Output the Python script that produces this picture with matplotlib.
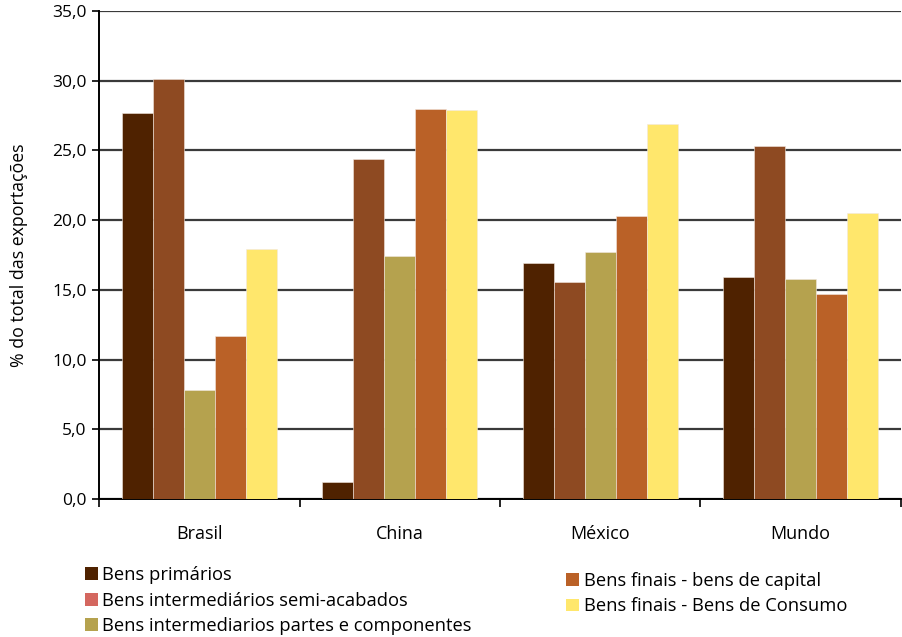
import matplotlib
matplotlib.use("Agg")
import matplotlib.pyplot as plt
from matplotlib.patches import Patch
from matplotlib.ticker import FuncFormatter, FixedLocator
import numpy as np

plt.rcParams['font.family'] = ['Open Sans', 'DejaVu Sans']

regioes = ["Brasil", "China", "México", "Mundo"]
series = [
    "Bens primários",
    "Bens intermediários semi-acabados",
    "Bens intermediarios partes e componentes",
    "Bens finais - bens de capital",
    "Bens finais - Bens de Consumo",
]
primarios = [27.7, 1.2, 16.9, 15.9]
semi_acabados = [30.1, 24.4, 15.6, 25.3]
partes_componentes = [7.8, 17.4, 17.7, 15.8]
bens_capital = [11.7, 28.0, 20.3, 14.7]
bens_consumo = [17.9, 27.9, 26.9, 20.5]

valores = [primarios, semi_acabados, partes_componentes, bens_capital, bens_consumo]
cores_barras = ["#4F2200", "#8E4A22", "#B5A24E", "#BA6127", "#FFE76C"]
cores_legenda = ["#4F2200", "#D4675F", "#B5A24E", "#BA6127", "#FFE76C"]

fig = plt.figure(figsize=(9.02, 6.37), dpi=100)
ax = fig.add_axes([0.1098, 0.2166, 0.889, 0.7661])

x = np.arange(len(regioes))
largura = 0.155
for i, (vals, cor) in enumerate(zip(valores, cores_barras)):
    ax.bar(x + (i - 2) * largura, vals, width=largura, color=cor,
           edgecolor="#f2e8e0", linewidth=0.4, zorder=3)

ax.set_xlim(-0.5, len(regioes) - 0.5)
ax.set_ylim(0, 35)
ax.set_yticks(np.arange(0, 35.1, 5))
ax.yaxis.set_major_formatter(FuncFormatter(lambda v, p: f"{v:.1f}".replace(".", ",")))
ax.yaxis.grid(True, color="#3a3a3a", linewidth=1.6, zorder=0)
ax.set_axisbelow(True)

# group boundaries carry the tick marks, category names sit at the centres
ax.xaxis.set_major_locator(FixedLocator(np.arange(-0.5, len(regioes), 1.0)))
ax.xaxis.set_major_formatter(FuncFormatter(lambda v, p: ""))
ax.xaxis.set_minor_locator(FixedLocator(x))
ax.set_xticklabels(regioes, minor=True)
ax.tick_params(axis="x", which="major", length=6, width=1.2, direction="out", color="black")
ax.tick_params(axis="x", which="minor", length=0, pad=19, labelsize=13)
ax.tick_params(axis="y", length=5, width=1.2, direction="out", labelsize=12.5, pad=4)

for s in ["top", "right"]:
    ax.spines[s].set_visible(False)
for s in ["left", "bottom"]:
    ax.spines[s].set_linewidth(1.4)
    ax.spines[s].set_color("black")

ax.set_ylabel("% do total das exportações", fontsize=12.8)
ax.yaxis.set_label_coords(-0.089, 0.5)

handles = [Patch(facecolor=c, edgecolor="none", label=s) for c, s in zip(cores_legenda, series)]
leg_kw = dict(frameon=False, fontsize=13.2, handlelength=0.7, handleheight=0.7,
              handletextpad=0.25, labelspacing=0.4, borderpad=0, borderaxespad=0)
fig.legend(handles=handles[:3], loc="upper left", bbox_to_anchor=(0.094, 0.111), **leg_kw)
fig.legend(handles=handles[3:], loc="upper left", bbox_to_anchor=(0.628, 0.102), **leg_kw)

fig.savefig("out.png", dpi=100)
